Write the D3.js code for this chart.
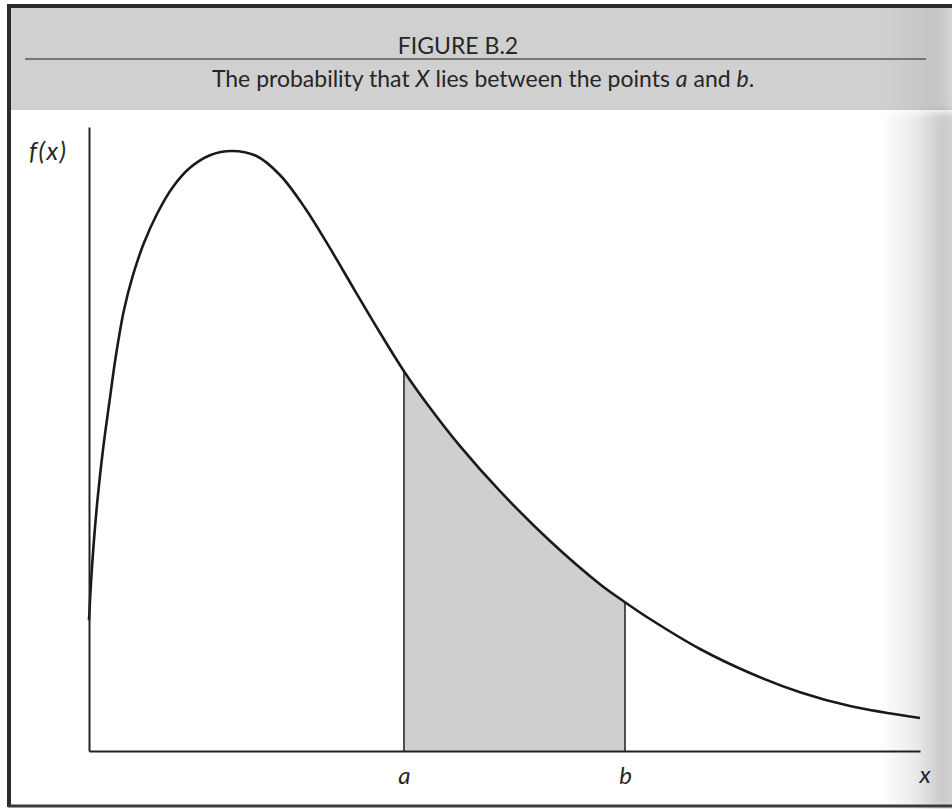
<!DOCTYPE html>
<html>
<head>
<meta charset="utf-8">
<script src="https://cdn.jsdelivr.net/npm/d3@7/dist/d3.min.js"></script>
<style>
  html, body { margin: 0; padding: 0; background: #ffffff; }
  svg { display: block; }
  text { font-family: Lato, "Open Sans", "DejaVu Sans", sans-serif; fill: #262626; }
</style>
</head>
<body>
<script>
// Density curve f(x), sampled along the horizontal axis
const curveX = [0.000, 0.024, 0.060, 0.108, 0.168, 0.241, 0.325, 0.421, 0.529, 0.662, 0.818, 0.999, 1.215, 1.456, 1.721, 2.010, 2.298, 2.599, 2.900, 3.201, 3.502, 3.790, 4.103, 4.465, 4.946, 5.548, 6.149, 6.450, 6.751, 7.353, 7.954, 8.556, 9.158, 10.00];
const curveY = [0.218, 0.280, 0.352, 0.427, 0.502, 0.577, 0.660, 0.735, 0.793, 0.847, 0.895, 0.938, 0.972, 0.993, 1.000, 0.992, 0.960, 0.905, 0.838, 0.767, 0.697, 0.633, 0.572, 0.508, 0.433, 0.350, 0.278, 0.248, 0.220, 0.170, 0.130, 0.098, 0.075, 0.055];

// Interval [a, b] whose probability is shaded
const boundNames = ["a", "b"];
const boundValues = [3.790, 6.450];

const figureLabel = "FIGURE B.2";
const captionParts = [
  { t: "The probability that ", i: false },
  { t: "X", i: true },
  { t: " lies between the points ", i: false },
  { t: "a", i: true },
  { t: " and ", i: false },
  { t: "b", i: true },
  { t: ".", i: false }
];
const yAxisLabel = "f(x)";
const xAxisLabel = "x";

const W = 952, H = 809;
const svg = d3.select("body").append("svg").attr("width", W).attr("height", H);
const defs = svg.append("defs");

// Page shading toward the binding edge on the right
const shade = defs.append("linearGradient").attr("id", "edgeShade").attr("x1", 0).attr("x2", 1).attr("y1", 0).attr("y2", 0);
shade.append("stop").attr("offset", "0%").attr("stop-color", "#000").attr("stop-opacity", 0);
shade.append("stop").attr("offset", "45%").attr("stop-color", "#000").attr("stop-opacity", 0.08);
shade.append("stop").attr("offset", "80%").attr("stop-color", "#000").attr("stop-opacity", 0.22);
shade.append("stop").attr("offset", "100%").attr("stop-color", "#000").attr("stop-opacity", 0.14);
const hshade = defs.append("linearGradient").attr("id", "headShade").attr("x1", 0).attr("x2", 1).attr("y1", 0).attr("y2", 0);
hshade.append("stop").attr("offset", "0%").attr("stop-color", "#000").attr("stop-opacity", 0);
hshade.append("stop").attr("offset", "70%").attr("stop-color", "#000").attr("stop-opacity", 0.05);
hshade.append("stop").attr("offset", "100%").attr("stop-color", "#fff").attr("stop-opacity", 0.12);
defs.append("filter").attr("id", "soft").attr("x", "-20%").attr("width", "140%")
  .append("feGaussianBlur").attr("stdDeviation", 4);

// Page
svg.append("rect").attr("width", W).attr("height", H).attr("fill", "#ffffff");

// Header band
svg.append("rect").attr("x", 10).attr("y", 8).attr("width", W - 10).attr("height", 102).attr("fill", "#d0d0d0");
svg.append("rect").attr("x", 880).attr("y", 8).attr("width", 72).attr("height", 102).attr("fill", "url(#headShade)");

svg.append("text").attr("x", 458).attr("y", 54).attr("text-anchor", "middle")
  .attr("font-size", 23).attr("fill", "#2e2e2e").text(figureLabel);
svg.append("line").attr("x1", 25).attr("x2", 926).attr("y1", 59).attr("y2", 59)
  .attr("stroke", "#5a5a5a").attr("stroke-width", 1.6);

const cap = svg.append("text").attr("x", 483).attr("y", 87).attr("text-anchor", "middle").attr("font-size", 23).attr("fill", "#2e2e2e");
captionParts.forEach(p => cap.append("tspan").attr("font-style", p.i ? "italic" : "normal").text(p.t));

// Scales
const x = d3.scaleLinear().domain([0, 10]).range([89, 920]);
const y = d3.scaleLinear().domain([0, 1.04]).range([751, 127]);

const pts = curveX.map((v, i) => [v, curveY[i]]);
const inside = pts.filter(p => p[0] >= boundValues[0] - 1e-9 && p[0] <= boundValues[1] + 1e-9);
const smooth = d3.curveCatmullRom.alpha(0.5);

// Shaded probability region
svg.append("path")
  .datum(inside)
  .attr("fill", "#cfcfcf")
  .attr("d", d3.area().x(d => x(d[0])).y0(y(0)).y1(d => y(d[1])).curve(smooth));

// Vertical lines at a and b
const boundY = boundValues.map(v => curveY[curveX.findIndex(c => Math.abs(c - v) < 1e-9)]);
svg.selectAll(".bound").data(boundValues).enter().append("line")
  .attr("class", "bound")
  .attr("x1", d => x(d)).attr("x2", d => x(d))
  .attr("y1", y(0)).attr("y2", (d, i) => y(boundY[i]))
  .attr("stroke", "#2a2a2a").attr("stroke-width", 1.6);

// Density curve
svg.append("path")
  .datum(pts)
  .attr("fill", "none")
  .attr("stroke", "#1a1a1a")
  .attr("stroke-width", 2.6)
  .attr("stroke-linejoin", "round")
  .attr("d", d3.line().x(d => x(d[0])).y(d => y(d[1])).curve(smooth));

// Axes
const xAxis = svg.append("g").attr("transform", `translate(0,${y(0)})`)
  .call(d3.axisBottom(x).tickValues(boundValues).tickFormat((d, i) => boundNames[i]).tickSize(0).tickPadding(16));
xAxis.select(".domain").attr("stroke", "#222").attr("stroke-width", 2);
xAxis.selectAll("text").attr("font-size", 24).attr("font-style", "italic")
  .attr("font-family", "Lato, 'Open Sans', sans-serif").attr("fill", "#262626");

const yAxis = svg.append("g").attr("transform", `translate(${x(0)},0)`)
  .call(d3.axisLeft(y).tickValues([]).tickSizeOuter(0));
yAxis.select(".domain").attr("stroke", "#222").attr("stroke-width", 2);

svg.append("text").attr("x", 29).attr("y", 160).attr("font-size", 25).attr("letter-spacing", 1.5)
  .attr("font-style", "italic").text(yAxisLabel);
svg.append("text").attr("x", 925).attr("y", 783).attr("text-anchor", "middle").attr("font-size", 24)
  .attr("font-style", "italic").text(xAxisLabel);

// Edge shading
svg.append("rect").attr("x", 880).attr("y", 112).attr("width", 80).attr("height", H - 112)
  .attr("fill", "url(#edgeShade)").attr("filter", "url(#soft)");

// Frame: top, left and bottom rules
svg.append("line").attr("x1", 8).attr("x2", W).attr("y1", 6).attr("y2", 6).attr("stroke", "#2b2b2b").attr("stroke-width", 4);
svg.append("line").attr("x1", 9).attr("x2", 9).attr("y1", 4).attr("y2", 807).attr("stroke", "#2b2b2b").attr("stroke-width", 4);
svg.append("line").attr("x1", 8).attr("x2", W).attr("y1", 806).attr("y2", 806).attr("stroke", "#3a3a3a").attr("stroke-width", 3);
</script>
</body>
</html>
